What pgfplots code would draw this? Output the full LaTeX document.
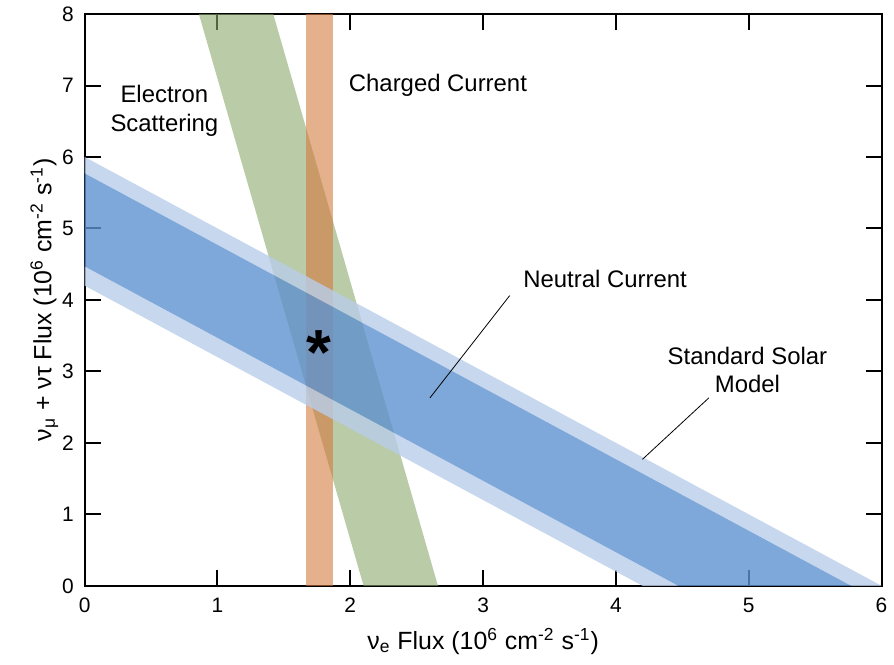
\documentclass[border=0pt]{standalone}
\usepackage{fontspec}
\setmainfont{Liberation Sans}
\usepackage{pgfplots}
\pgfplotsset{compat=1.18}

\definecolor{lightblue}{HTML}{B8CDEA}
\definecolor{darkblue}{HTML}{5E92CF}
\definecolor{esgreen}{HTML}{8CA86C}
\definecolor{ccorange}{HTML}{D47B3F}

\begin{document}
\begin{tikzpicture}
\begin{axis}[
    scale only axis,
    width=400pt, height=287pt,
    xmin=0, xmax=6, ymin=0, ymax=8,
    xtick={0,...,6}, ytick={0,...,8},
    tick align=inside,
    major tick length=8pt,
    axis line style={line width=1pt},
    tick style={line width=1pt, black},
    /pgf/number format/assume math mode=true,
    ticklabel style={font=\fontsize{10.5}{12}\selectfont},
    xticklabel style={yshift=-2.5pt},
    yticklabel style={xshift=-2pt},
    xlabel={ν\textsubscript{e} Flux (10\textsuperscript{6} cm\textsuperscript{-2} s\textsuperscript{-1})},
    ylabel={ν\textsubscript{μ} + ντ Flux (10\textsuperscript{6} cm\textsuperscript{-2} s\textsuperscript{-1})},
    label style={font=\fontsize{12.5}{14}\selectfont},
    xlabel style={yshift=-1pt},
    ylabel style={yshift=-5pt},
    clip=true,
]
% electron scattering band
\addplot[draw=none, fill=esgreen, fill opacity=0.6]
    coordinates {(2.10,0) (2.66,0) (1.42,8) (0.86,8)} -- cycle;
% charged current band
\addplot[draw=none, fill=ccorange, fill opacity=0.6]
    coordinates {(1.67,0) (1.87,0) (1.87,8) (1.67,8)} -- cycle;
% standard solar model (outer strips)
\addplot[draw=none, fill=lightblue, fill opacity=0.8]
    coordinates {(0,5.77) (0,6.0) (6.0,0) (5.77,0)} -- cycle;
\addplot[draw=none, fill=lightblue, fill opacity=0.8]
    coordinates {(0,4.2) (0,4.47) (4.47,0) (4.2,0)} -- cycle;
% neutral current band
\addplot[draw=none, fill=darkblue, fill opacity=0.8]
    coordinates {(0,4.47) (0,5.77) (5.77,0) (4.47,0)} -- cycle;

% annotations
\draw[line width=0.4pt] (axis cs:2.60,2.63) -- (axis cs:3.20,4.06);
\draw[line width=0.4pt] (axis cs:4.20,1.77) -- (axis cs:4.70,2.63);
\begin{scope}[every node/.style={font=\fontsize{12}{14.5}\selectfont, align=center}]
\node at (axis cs:0.60,6.65) {Electron\\Scattering};
\node at (axis cs:2.66,7.0) {Charged Current};
\node[anchor=west] at (axis cs:3.25,4.29) {Neutral Current};
\node at (axis cs:4.99,3.02) {Standard Solar\\Model};
\end{scope}
\node[font=\fontsize{32}{32}\selectfont\bfseries] at (axis cs:1.76,3.26) {*};
\end{axis}
\path (current axis.south west) ++(-42.5pt,-39.5pt) coordinate (bl);
\path (current axis.north east) ++(4.5pt,5pt) coordinate (tr);
\path (bl) rectangle (tr);
\end{tikzpicture}
\end{document}
